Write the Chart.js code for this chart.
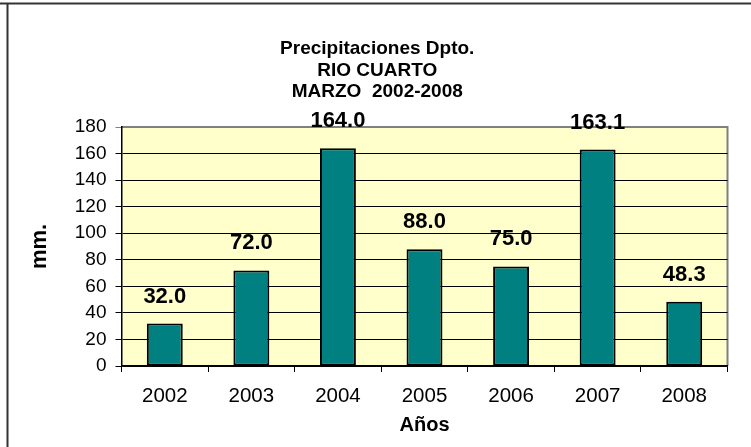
<!DOCTYPE html>
<html>
<head>
<meta charset="utf-8">
<script src="https://cdn.jsdelivr.net/npm/chart.js@4.4.0/dist/chart.umd.min.js"></script>
<style>
  html, body { margin: 0; padding: 0; background: #fff; }
  #wrap { width: 751px; height: 447px; }
</style>
</head>
<body>
<div id="wrap"><canvas id="chart"></canvas></div>
<script>
const years = ['2002', '2003', '2004', '2005', '2006', '2007', '2008']
const rainfall = [32.0, 72.0, 164.0, 88.0, 75.0, 163.1, 48.3]
const titleLines = ['Precipitaciones Dpto.', 'RIO CUARTO', 'MARZO  2002-2008']
const yMin = 0
const yMax = 180
const yStep = 20

const FONT = 'Arial, "Liberation Sans", sans-serif'

// white page, frame lines and the pale yellow plot area
const backdrop = {
  id: 'backdrop',
  beforeDraw(chart) {
    const { ctx, chartArea: a } = chart
    ctx.save()
    ctx.fillStyle = '#fff'
    ctx.fillRect(0, 0, chart.width, chart.height)
    ctx.strokeStyle = '#333'
    ctx.lineWidth = 2
    ctx.beginPath()
    ctx.moveTo(0, 3.5)
    ctx.lineTo(chart.width, 3.5)
    ctx.moveTo(7.5, 3)
    ctx.lineTo(7.5, chart.height)
    ctx.stroke()
    ctx.fillStyle = '#FFFFCC'
    ctx.fillRect(a.left, a.top, a.right - a.left, a.bottom - a.top)
    ctx.strokeStyle = '#808080'
    ctx.lineWidth = 2
    ctx.beginPath()
    ctx.moveTo(a.left, a.top)
    ctx.lineTo(a.right, a.top)
    ctx.lineTo(a.right, a.bottom)
    ctx.stroke()
    ctx.restore()
  }
}

// values printed above each bar
const valueLabels = {
  id: 'valueLabels',
  afterDatasetsDraw(chart) {
    const { ctx } = chart
    const meta = chart.getDatasetMeta(0)
    ctx.save()
    ctx.font = 'bold 22px ' + FONT
    ctx.fillStyle = '#000'
    ctx.textAlign = 'center'
    ctx.textBaseline = 'middle'
    meta.data.forEach((bar, i) => {
      ctx.fillText(rainfall[i].toFixed(1), bar.x, bar.y - 27)
    })
    ctx.restore()
  }
}

new Chart(document.getElementById('chart'), {
  type: 'bar',
  data: {
    labels: years,
    datasets: [{
      data: rainfall,
      backgroundColor: '#008080',
      borderColor: '#000',
      borderWidth: 2,
      borderSkipped: false,
      barPercentage: 0.415,
      categoryPercentage: 1
    }]
  },
  options: {
    responsive: true,
    maintainAspectRatio: false,
    animation: false,
    layout: { padding: { left: 27, top: 0, right: 23.5, bottom: 0 } },
    plugins: {
      legend: { display: false },
      tooltip: { enabled: false },
      title: {
        display: true,
        text: titleLines,
        color: '#000',
        font: { family: FONT, size: 19, weight: 'bold', lineHeight: '21.5px' },
        padding: { top: 38.5, bottom: 24 }
      }
    },
    scales: {
      x: {
        afterFit(scale) { scale.height = 81 },
        grid: {
          offset: true,
          drawOnChartArea: false,
          drawTicks: true,
          tickLength: 6,
          color: '#000'
        },
        border: { display: true, color: '#000', width: 1.5 },
        ticks: {
          color: '#000',
          font: { family: FONT, size: 20.5 },
          padding: 12,
          maxRotation: 0
        },
        title: {
          display: true,
          text: 'Años',
          color: '#000',
          font: { family: FONT, size: 20, weight: 'bold' },
          padding: { top: 0, bottom: 10 }
        }
      },
      y: {
        min: yMin,
        max: yMax,
        afterFit(scale) { scale.width = 94.5 },
        grid: {
          color: ctx => (ctx.tick && ctx.tick.value === yMax ? '#808080' : '#000'),
          lineWidth: 1,
          tickLength: 6
        },
        border: { display: true, color: '#000', width: 1.5 },
        ticks: {
          stepSize: yStep,
          color: '#000',
          font: { family: FONT, size: 19 },
          padding: 9
        },
        title: {
          display: true,
          text: 'mm.',
          color: '#000',
          font: { family: FONT, size: 22, weight: 'bold' },
          padding: { top: 0, bottom: 0 }
        }
      }
    }
  },
  plugins: [backdrop, valueLabels]
})
</script>
</body>
</html>
